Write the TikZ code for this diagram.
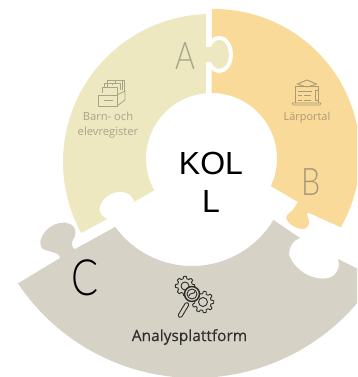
\documentclass[tikz,border=0pt]{standalone}
\usepackage{fontspec}
\setmainfont{Open Sans}
\newfontfamily\arial{Liberation Sans}
\newfontfamily\thinf{Lato}[UprightFont=* Light]
\definecolor{pa}{HTML}{EEE8C0}
\definecolor{pb}{HTML}{F9DA98}
\definecolor{pc}{HTML}{D6D3C6}
\definecolor{inka}{HTML}{A8A48C}
\definecolor{inkb}{HTML}{A89A78}
\definecolor{inkc}{HTML}{2E2E2C}
\tikzset{
  iconA/.style={draw=inka,line width=0.8pt,line join=round},
  iconB/.style={draw=inkb,line width=0.6pt,line join=round},
  iconC/.style={draw=inkc,line width=0.9pt,line join=round},
  lab/.style={align=center,inner sep=0pt},
  letter/.style={inner sep=0pt,xscale=0.8,transform shape},
}
\newcommand{\gearplot}[4]{% cx cy r teeth
  plot[domain=0:360,samples=140,smooth] ({#1+(#3+0.13*#3*max(-1,min(1,2.5*cos(#4*\x))))*cos(\x)},{#2+(#3+0.13*#3*max(-1,min(1,2.5*cos(#4*\x))))*sin(\x)}) -- cycle}
\begin{document}
\begin{tikzpicture}[x=1pt,y=-1pt]
\useasboundingbox (0,0) rectangle (357,377);
\clip (0,0) rectangle (357,377);
% piece B
\fill[pb] plot[domain=-90.8:29.7,samples=60] ({214+146*cos(\x)},{155+146*sin(\x)})
  -- (309,213)
  .. controls (306,212) and (307,216) .. (309,220)
  .. controls (310,226) and (306,230) .. (301,229)
  .. controls (295,228) and (288,224) .. (286,218)
  .. controls (287,213) and (292,212) .. (294,208)
  -- (298,202)
  -- plot[domain=25:-90,samples=50] ({211.5+65.5*cos(\x)},{158.5+65.5*sin(\x)})
  -- cycle;
% white ring round the tab of A
\draw[white,line width=8pt] (206,47) -- (211,47)
  .. controls (213,43) and (215,40) .. (219,40)
  .. controls (226,40) and (229,48) .. (229,55)
  .. controls (229,62) and (225,69) .. (219,69)
  .. controls (215,69) and (213,65) .. (211,62) -- (206,62);
% piece A
\fill[pa] plot[domain=268:151.3,samples=60] ({211+148*cos(\x)},{162+148*sin(\x)})
  -- (107,219)
  .. controls (101,216) and (98,211) .. (100,206)
  .. controls (103,198) and (110,193) .. (118,192)
  .. controls (125,191) and (131,194) .. (133,199)
  -- (134,202) -- (153,191)
  -- plot[domain=150.7:265,samples=50] ({211.5+65.5*cos(\x)},{158.5+65.5*sin(\x)})
  -- (206,62) -- (211,62)
  .. controls (213,65) and (215,69) .. (219,69)
  .. controls (225,69) and (229,62) .. (229,55)
  .. controls (229,48) and (226,40) .. (219,40)
  .. controls (215,40) and (213,43) .. (211,47)
  -- (206,47) -- cycle;
% piece C
\fill[pc] (17,284) -- (60,258)
  .. controls (60,252) and (48,252) .. (43,249)
  .. controls (38,245) and (40,235) .. (50,227)
  .. controls (56,223) and (64,221) .. (70,224)
  .. controls (78,228) and (76,236) .. (72,242)
  .. controls (72,246) and (73,249) .. (75,249)
  -- (115,227)
  -- plot[domain=144:31,samples=60] ({192+95*cos(\x)},{171+95*sin(\x)})
  -- (300,238)
  .. controls (293,240) and (289,247) .. (289,254)
  .. controls (291,262) and (297,268) .. (304,273)
  .. controls (312,278) and (325,281) .. (333,276)
  .. controls (339,271) and (340,265) .. (338,259)
  -- (376,278)
  -- plot[domain=32:146.2,samples=60] ({195+213*cos(\x)},{165+213*sin(\x)})
  -- cycle;
% drawer icon
\draw[iconA] (107,87) -- (107,80) -- (124,80) -- (124,91);
\draw[iconA] (104,88) -- (104,83) -- (120,83) -- (120,90);
\draw[iconA] (102,93) -- (102,87) -- (117,87) -- (117,95);
\draw[iconA] (112,85) -- (112,83) (115,83) -- (115,80) (122,80) -- (122,90);
\draw[iconA,fill=pa] (98.5,95) rectangle (117,106);
\draw[iconA] (117,95) -- (125,91) -- (125,100) -- (117,106);
\draw[inka,line width=1.4pt] (103.5,100.3) -- (112.5,100.3);
% portal icon
\draw[iconB] (295,103) -- (295,86) -- (318,86) -- (318,103);
\draw[iconB] (292,103) -- (321,103) -- (320,105) -- (293,105) -- cycle;
\draw[iconB] (300,86) -- (300,83) -- (307,80) -- (314,83) -- (314,86);
\draw[iconB] (297,84) -- (307,80) -- (317,84) -- (307,87) -- cycle;
\draw[iconB] (298,91) -- (312,91) (298,95.5) -- (302,95.5) (304,95.5) -- (311,95.5) (298,100) -- (302,100) (304,100) -- (311,100);
\draw[iconB] (315,90) rectangle (318,100);
% analysis icon
\draw[iconC] \gearplot{185}{286}{8.5}{8};
\draw[iconC] \gearplot{203}{302}{9.5}{9};
\draw[iconC] (185,286) circle[radius=4];
\draw[iconC] (203,302) circle[radius=4.5];
\draw[iconC,fill=pc,line width=1.5pt] (192,294) circle[radius=7.5];
\draw[iconC] (192,294) circle[radius=5];
\draw[iconC] (189,296) .. controls (189,292) and (195,295) .. (195,291);
\draw[iconC,fill=pc,rounded corners=1.5pt] (186,302) -- (189.5,304) -- (181,318) -- (177.5,316) -- cycle;
% letters
\node[letter,text=inka,font=\thinf\fontsize{38}{38}\selectfont] (la) at (185.5,56) {A};
\node[letter,text=inkb,font=\thinf\fontsize{38}{38}\selectfont] (lb) at (311.5,182) {B};
\node[letter,text=black,font=\thinf\fontsize{50}{50}\selectfont] (lc) at (85,278) {C};
% labels
\node[lab,text=inka,font=\fontsize{11.2}{15}\selectfont] (barn) at (108,125.5) {Barn- och\\elevregister};
\node[lab,text=inkb,font=\fontsize{10.9}{12}\selectfont] (larp) at (307,118) {Lärportal};
\node[lab,text=inkc,font=\addfontfeature{FakeBold=0.35}\fontsize{15.5}{17}\selectfont] (anal) at (189.5,337) {Analysplattform};
\node[lab,text=black,font=\arial\fontsize{32}{38}\selectfont] (koll) at (211,182.5) {KOL\\L};
\end{tikzpicture}
\end{document}
